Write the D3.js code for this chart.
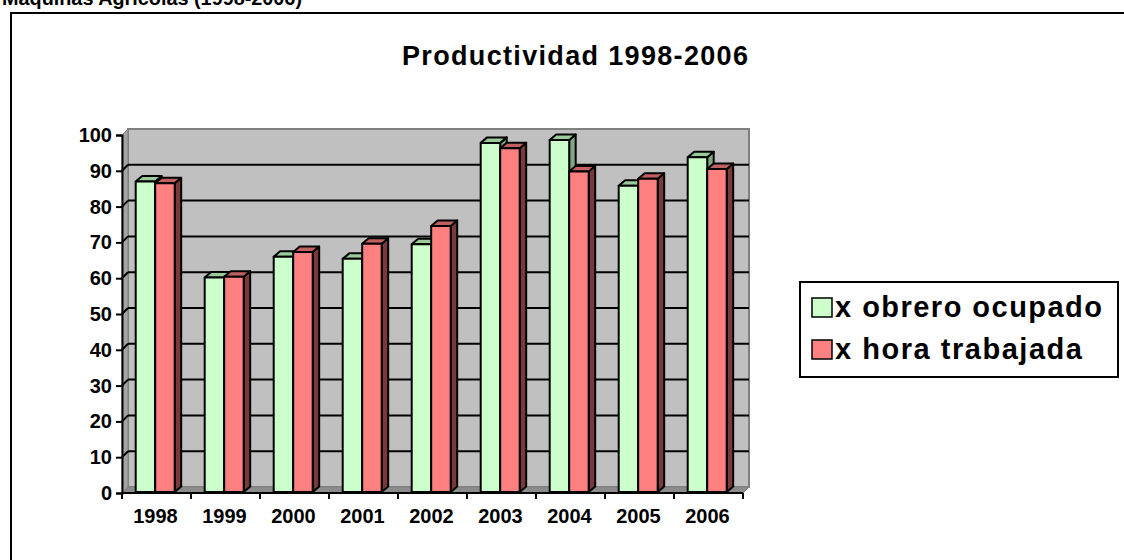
<!DOCTYPE html>
<html><head><meta charset="utf-8">
<script src="https://cdn.jsdelivr.net/npm/d3@7"></script>
<style>
html,body{margin:0;padding:0;background:#fff;}
svg{display:block;}
text{font-family:"Liberation Sans",Arial,sans-serif;font-weight:bold;fill:#000;}
</style></head>
<body>
<svg id="chart" width="1124" height="560"></svg>
<script>
// ---- data ----
const categories = ["1998","1999","2000","2001","2002","2003","2004","2005","2006"];
const seriesNames = ["x obrero ocupado","x hora trabajada"];
const obreroValues = [87, 60.2, 66.0, 65.4, 69.5, 97.8, 98.6, 85.8, 93.8];
const horaValues   = [86.5, 60.4, 67.3, 69.6, 74.6, 96.3, 89.8, 87.8, 90.5];
const yTicks = [0,10,20,30,40,50,60,70,80,90,100];
const pageTitle = "Maquinas Agricolas (1998-2006)";
const chartTitle = "Productividad 1998-2006";

// ---- styles ----
const faceColors = [
  {front:"#ccffcc", top:"#99cc99", side:"#80a880"},
  {front:"#ff8080", top:"#c06060", side:"#7a3a3a"}
];

const svg = d3.select("#chart");

// page heading (cut at top, as in the original)
svg.append("text").attr("x",2).attr("y",5).attr("font-size",21)
  .attr("textLength",300).attr("lengthAdjust","spacingAndGlyphs").text(pageTitle);

// outer frame
svg.append("rect").attr("x",11).attr("y",13).attr("width",1300).attr("height",700)
  .attr("fill","#fff").attr("stroke","#000").attr("stroke-width",2);

// chart title
svg.append("text").attr("x",402).attr("y",65).attr("font-size",27)
  .attr("textLength",346).attr("lengthAdjust","spacing").text(chartTitle);

// scales
const x0 = 122, x1 = 743;
const x = d3.scaleBand().domain(categories).range([x0,x1]).padding(0);
const y = d3.scaleLinear().domain([0,100]).range([493,135]);
const xs = d3.scaleBand().domain(seriesNames).range([13.7, 13.7 + x.bandwidth()*0.565]).padding(0);

const wdx = 6, wdy = 6;   // wall depth
const bdx = 6.5, bdy = 5.5; // bar depth

const g = svg.append("g");
// back wall
g.append("rect").attr("x",x0+wdx).attr("y",y(100)-wdy)
  .attr("width",x1-x0).attr("height",y(0)-y(100))
  .attr("fill","#c0c0c0").attr("stroke","#808080").attr("stroke-width",2);
// left wall
g.append("polygon")
  .attr("points",[[x0,y(100)],[x0+wdx,y(100)-wdy],[x0+wdx,y(0)-wdy],[x0,y(0)]].map(p=>p.join(",")).join(" "))
  .attr("fill","#a4a4a4").attr("stroke","#808080").attr("stroke-width",1);
// floor
g.append("polygon")
  .attr("points",[[x0,y(0)],[x0+wdx,y(0)-wdy],[x1+wdx,y(0)-wdy],[x1,y(0)]].map(p=>p.join(",")).join(" "))
  .attr("fill","#8c8c8c").attr("stroke","#808080").attr("stroke-width",1);

// gridlines
yTicks.filter(v=>v>0 && v<100).forEach(v=>{
  g.append("line").attr("x1",x0+wdx).attr("x2",x1+wdx).attr("y1",y(v)-wdy).attr("y2",y(v)-wdy)
    .attr("stroke","#000").attr("stroke-width",2);
  g.append("line").attr("x1",x0).attr("x2",x0+wdx).attr("y1",y(v)).attr("y2",y(v)-wdy)
    .attr("stroke","#000").attr("stroke-width",2);
});

// bars
const seriesData = [obreroValues, horaValues];
const bars = g.append("g");
const pts = a => a.map(p=>p.join(",")).join(" ");
categories.forEach((c,i)=>{
  seriesData.forEach((vals,s)=>{
    const v = vals[i];
    const bx = x(c) + xs(seriesNames[s]);
    const bw = xs.bandwidth();
    const yt = y(v), yb = y(0) - 1;
    const col = faceColors[s];
    const bg = bars.append("g").attr("stroke","#000").attr("stroke-width",2).attr("stroke-linejoin","round");
    bg.append("polygon").attr("points",pts([[bx+bw,yt],[bx+bw+bdx,yt-bdy],[bx+bw+bdx,yb-bdy],[bx+bw,yb]])).attr("fill",col.side);
    bg.append("polygon").attr("points",pts([[bx,yt],[bx+bdx,yt-bdy],[bx+bw+bdx,yt-bdy],[bx+bw,yt]])).attr("fill",col.top);
    bg.append("rect").attr("x",bx).attr("y",yt).attr("width",bw).attr("height",yb-yt).attr("fill",col.front);
  });
});

// y axis
const yAxis = d3.axisLeft(y).tickValues(yTicks).tickSize(6).tickPadding(4).tickFormat(d3.format("d"));
const ya = svg.append("g").attr("transform",`translate(${x0},0)`).call(yAxis);
ya.select(".domain").attr("stroke","#000").attr("stroke-width",2);
ya.selectAll(".tick line").attr("stroke","#000").attr("stroke-width",2);
ya.selectAll(".tick text").attr("font-size",20).attr("font-family",null).attr("fill","#000");

// x axis labels
const xAxis = d3.axisBottom(x).tickSize(0).tickPadding(16);
const xa = svg.append("g").attr("transform",`translate(0,${y(0)})`).call(xAxis);
xa.select(".domain").remove();
xa.selectAll(".tick text").attr("font-size",20).attr("font-family",null).attr("fill","#000").attr("dx",-1);
// x axis line and boundary ticks
svg.append("line").attr("x1",x0).attr("x2",x1).attr("y1",y(0)).attr("y2",y(0)).attr("stroke","#000").attr("stroke-width",2);
categories.concat(["__end"]).forEach((c,i)=>{
  const tx = i < categories.length ? x(c) : x1;
  svg.append("line").attr("x1",tx).attr("x2",tx).attr("y1",y(0)).attr("y2",y(0)+6).attr("stroke","#000").attr("stroke-width",2);
});

// legend
const lg = svg.append("g");
lg.append("rect").attr("x",800).attr("y",282).attr("width",318).attr("height",95)
  .attr("fill","#fff").attr("stroke","#000").attr("stroke-width",2);
const legendWidths = [267, 247];
seriesNames.forEach((n,i)=>{
  lg.append("rect").attr("x",812).attr("y",298+i*42).attr("width",20).attr("height",19)
    .attr("fill",faceColors[i].front).attr("stroke","#000").attr("stroke-width",1.5);
  lg.append("text").attr("x",835).attr("y",317+i*42).attr("font-size",29)
    .attr("textLength",legendWidths[i]).attr("lengthAdjust","spacing").text(n);
});
</script>
</body></html>
